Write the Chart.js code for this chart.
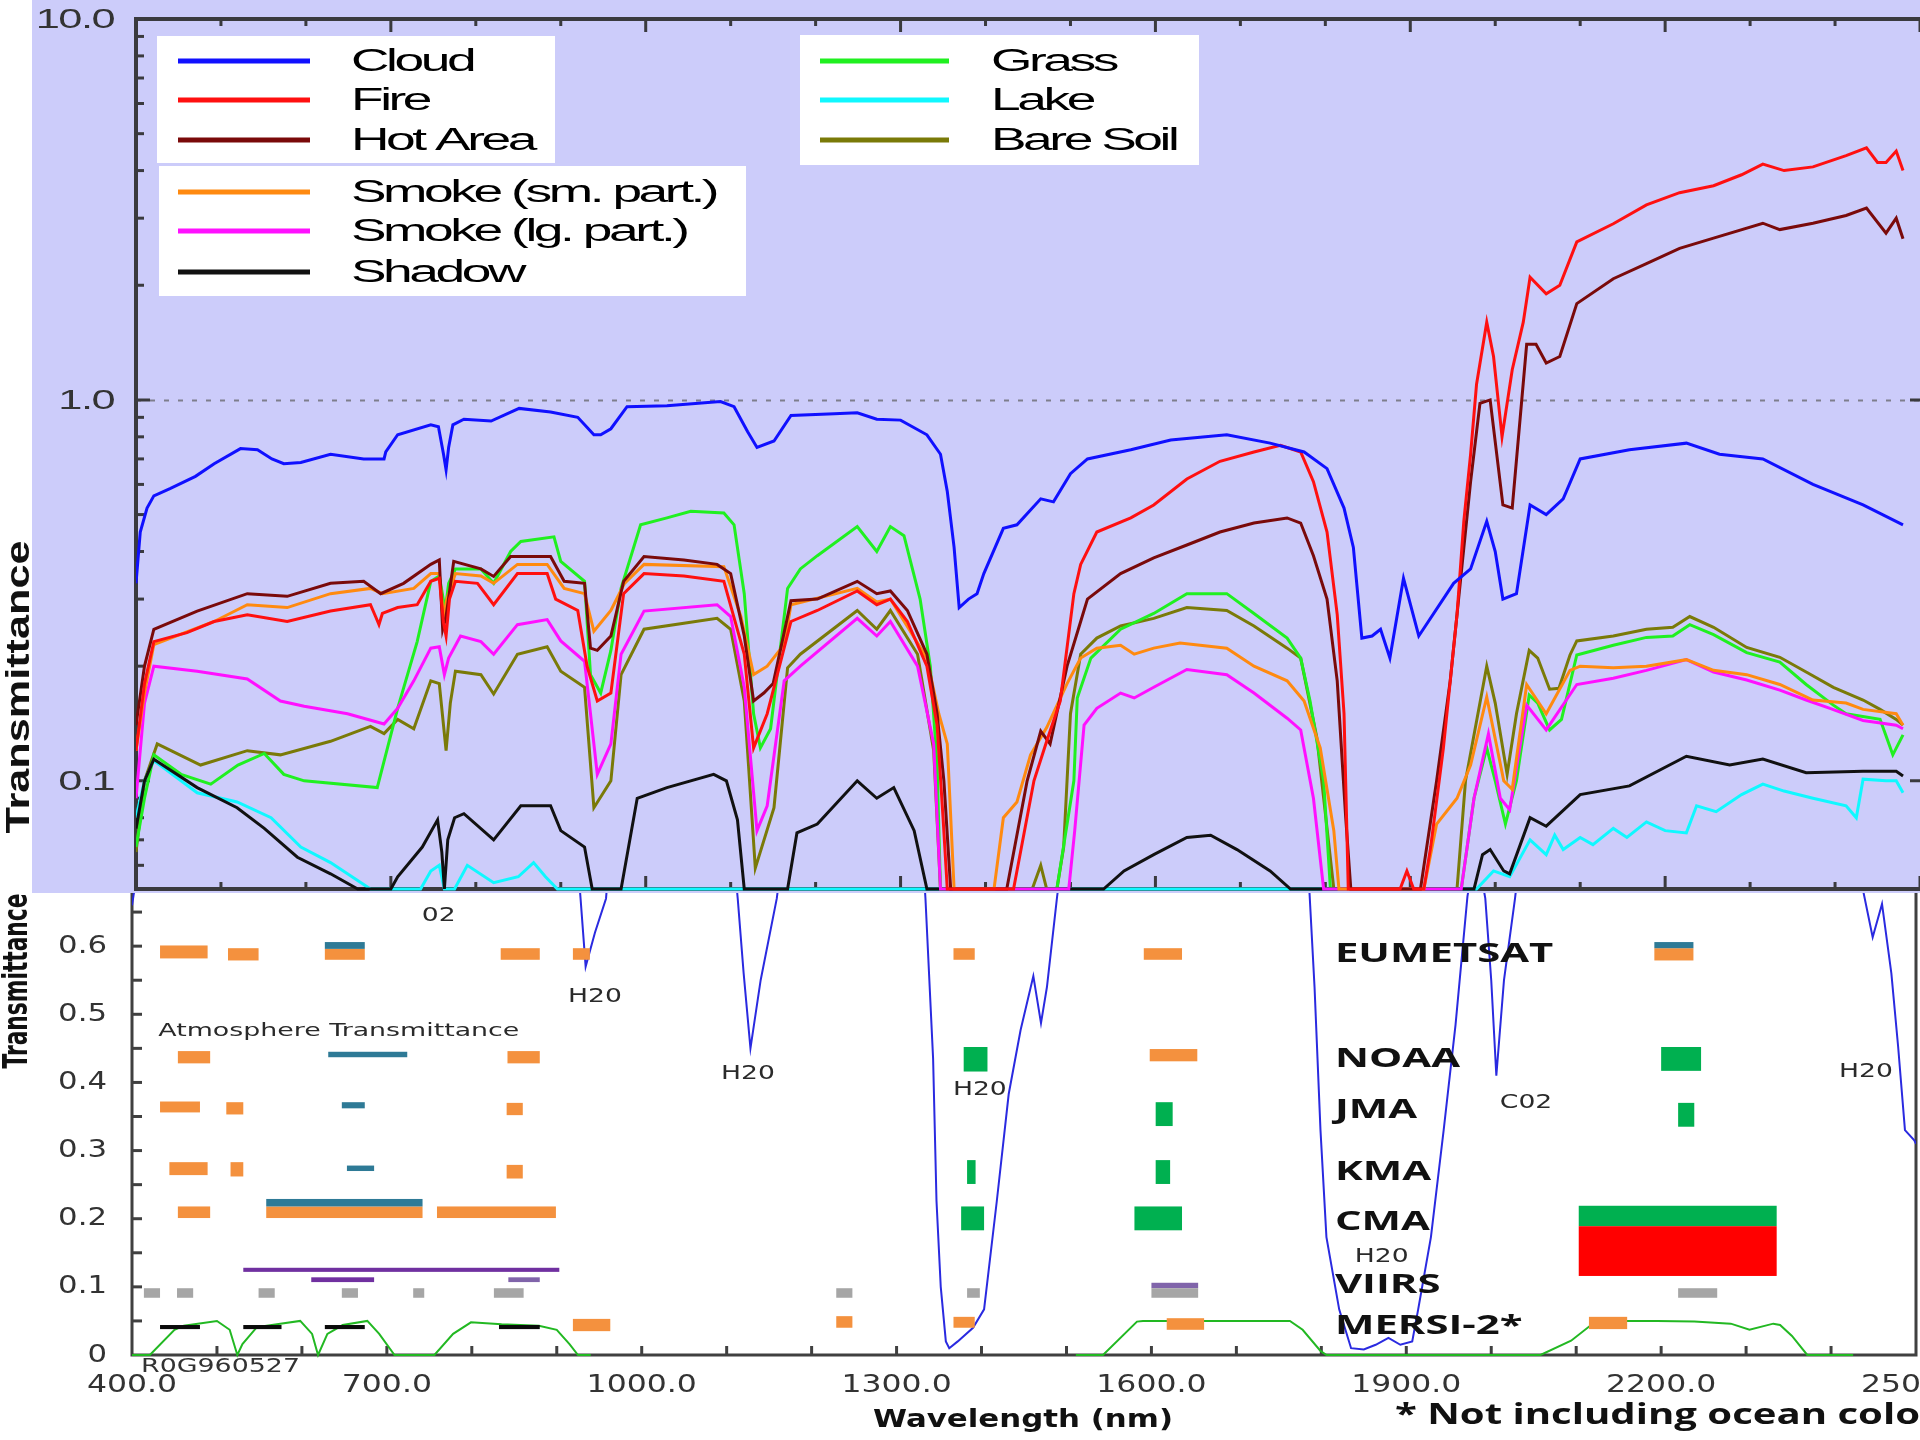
<!DOCTYPE html>
<html>
<head>
<meta charset="utf-8">
<title>Surface transmittance and satellite bands</title>
<script src="https://cdn.jsdelivr.net/npm/chart.js@4.4.1/dist/chart.umd.min.js"></script>
<style>
  html, body { margin: 0; padding: 0; background: #fff; }
  #wrap { position: relative; width: 1920px; height: 1440px; overflow: hidden; background: #fff; }
  #top { position: absolute; left: 0; top: 0; }
  #bottom { position: absolute; left: 0; top: 893px; }
</style>
</head>
<body>
<div id="wrap">
  <canvas id="top" width="1920" height="893"></canvas>
  <canvas id="bottom" width="1920" height="547"></canvas>
</div>
<script>
// ---- upper panel: surface spectra, [wavelength nm, transmittance] ----
const FLOOR = 0.052;

const cloud = [[400,0.33],[405,0.45],[413,0.52],[421,0.56],[440,0.585],[470,0.63],[492,0.68],[523,0.745],[543,0.74],[560,0.7],[574,0.68],[594,0.685],[629,0.72],[668,0.7],[692,0.7],[694,0.73],[708,0.81],[747,0.86],[756,0.85],[762,0.72],[765,0.655],[768,0.75],[773,0.86],[786,0.89],[818,0.88],[851,0.95],[888,0.93],[920,0.9],[939,0.81],[947,0.81],[959,0.84],[978,0.96],[1025,0.965],[1088,0.99],[1104,0.96],[1120,0.825],[1131,0.75],[1151,0.78],[1171,0.91],[1222,0.92],[1249,0.925],[1272,0.89],[1300,0.885],[1331,0.81],[1347,0.72],[1355,0.575],[1363,0.41],[1369,0.285],[1380,0.3],[1390,0.31],[1398,0.35],[1421,0.46],[1437,0.47],[1465,0.55],[1480,0.54],[1500,0.64],[1520,0.7],[1571,0.74],[1618,0.785],[1684,0.81],[1735,0.77],[1775,0.73],[1802,0.66],[1822,0.52],[1833,0.41],[1843,0.237],[1855,0.24],[1865,0.25],[1876,0.21],[1892,0.34],[1910,0.24],[1951,0.33],[1971,0.36],[1990,0.48],[2000,0.4],[2009,0.3],[2025,0.31],[2041,0.53],[2060,0.5],[2080,0.55],[2100,0.7],[2158,0.74],[2225,0.77],[2264,0.72],[2315,0.7],[2374,0.6],[2433,0.53],[2480,0.47]];

const fire = [[400,0.12],[410,0.18],[421,0.232],[460,0.245],[492,0.262],[531,0.273],[578,0.262],[629,0.279],[676,0.29],[682,0.27],[686,0.257],[690,0.275],[708,0.285],[731,0.29],[747,0.334],[757,0.34],[762,0.26],[765,0.24],[769,0.3],[776,0.334],[802,0.33],[821,0.29],[849,0.35],[884,0.35],[894,0.3],[920,0.28],[931,0.2],[943,0.162],[959,0.17],[974,0.31],[998,0.35],[1045,0.345],[1092,0.334],[1116,0.215],[1127,0.122],[1143,0.15],[1171,0.262],[1202,0.28],[1249,0.315],[1272,0.29],[1288,0.3],[1308,0.262],[1331,0.2],[1343,0.14],[1350,0.08],[1355,FLOOR],[1433,FLOOR],[1457,0.1],[1472,0.127],[1488,0.162],[1504,0.31],[1512,0.37],[1531,0.45],[1571,0.49],[1598,0.53],[1637,0.62],[1676,0.69],[1716,0.73],[1747,0.76],[1771,0.73],[1786,0.61],[1802,0.45],[1814,0.273],[1822,0.15],[1827,FLOOR],[1888,FLOOR],[1896,0.058],[1904,FLOOR],[1916,FLOOR],[1924,0.067],[1939,0.122],[1955,0.273],[1963,0.48],[1971,0.72],[1978,1.1],[1990,1.6],[1998,1.3],[2008,0.8],[2020,1.2],[2033,1.6],[2041,2.1],[2060,1.9],[2076,2.0],[2096,2.6],[2139,2.9],[2178,3.25],[2217,3.5],[2257,3.65],[2290,3.9],[2315,4.16],[2340,4.0],[2374,4.09],[2413,4.38],[2437,4.59],[2450,4.2],[2460,4.2],[2472,4.5],[2480,4.0]];

const hotArea = [[400,0.14],[410,0.2],[421,0.25],[472,0.279],[531,0.31],[578,0.305],[629,0.33],[668,0.334],[688,0.31],[715,0.33],[747,0.37],[757,0.38],[761,0.25],[765,0.27],[774,0.377],[806,0.36],[821,0.344],[841,0.388],[888,0.388],[904,0.334],[928,0.33],[935,0.223],[943,0.22],[959,0.24],[963,0.262],[974,0.334],[998,0.388],[1045,0.38],[1084,0.37],[1100,0.35],[1116,0.24],[1127,0.162],[1139,0.17],[1150,0.18],[1171,0.297],[1202,0.3],[1249,0.334],[1272,0.31],[1288,0.315],[1308,0.28],[1331,0.215],[1343,0.15],[1351,0.1],[1359,FLOOR],[1425,FLOOR],[1449,0.1],[1465,0.135],[1476,0.125],[1496,0.2],[1512,0.262],[1520,0.3],[1559,0.35],[1598,0.385],[1637,0.416],[1676,0.45],[1716,0.475],[1755,0.49],[1771,0.475],[1786,0.39],[1802,0.3],[1814,0.183],[1824,0.08],[1830,FLOOR],[1912,FLOOR],[1931,0.1],[1947,0.183],[1959,0.334],[1971,0.61],[1982,0.98],[1994,1.0],[2009,0.53],[2020,0.52],[2037,1.4],[2048,1.4],[2060,1.25],[2076,1.3],[2096,1.79],[2139,2.08],[2178,2.28],[2217,2.5],[2257,2.66],[2315,2.91],[2335,2.8],[2374,2.91],[2413,3.05],[2437,3.19],[2460,2.74],[2472,3.0],[2480,2.65]];

const smokeSmall = [[400,0.12],[410,0.17],[421,0.228],[492,0.262],[531,0.29],[578,0.285],[629,0.31],[676,0.32],[690,0.31],[727,0.32],[747,0.35],[757,0.35],[762,0.27],[766,0.3],[776,0.35],[806,0.345],[821,0.33],[849,0.37],[884,0.37],[904,0.32],[928,0.31],[939,0.247],[959,0.28],[975,0.33],[998,0.37],[1092,0.365],[1112,0.27],[1127,0.19],[1143,0.2],[1163,0.228],[1171,0.29],[1249,0.32],[1272,0.295],[1288,0.3],[1331,0.21],[1345,0.15],[1355,0.125],[1363,FLOOR],[1410,FLOOR],[1421,0.08],[1437,0.088],[1453,0.117],[1472,0.138],[1496,0.18],[1512,0.21],[1531,0.223],[1559,0.227],[1575,0.215],[1598,0.223],[1629,0.23],[1684,0.223],[1716,0.2],[1755,0.183],[1775,0.162],[1794,0.122],[1810,0.074],[1816,FLOOR],[1916,FLOOR],[1931,0.077],[1955,0.09],[1971,0.11],[1990,0.166],[2010,0.1],[2020,0.095],[2037,0.179],[2060,0.15],[2088,0.195],[2100,0.2],[2139,0.198],[2178,0.2],[2225,0.208],[2257,0.195],[2296,0.19],[2335,0.179],[2374,0.163],[2413,0.16],[2433,0.154],[2472,0.15],[2480,0.14]];

const smokeLarge = [[400,0.09],[410,0.16],[421,0.2],[472,0.194],[531,0.185],[570,0.162],[598,0.157],[649,0.15],[692,0.141],[708,0.155],[727,0.183],[747,0.223],[757,0.225],[763,0.19],[768,0.21],[782,0.24],[806,0.232],[821,0.215],[849,0.257],[884,0.265],[900,0.233],[928,0.206],[935,0.15],[943,0.104],[959,0.125],[971,0.215],[998,0.279],[1084,0.29],[1100,0.27],[1116,0.176],[1131,0.074],[1143,0.086],[1163,0.183],[1182,0.2],[1249,0.267],[1272,0.24],[1288,0.262],[1320,0.2],[1339,0.125],[1347,FLOOR],[1498,FLOOR],[1505,0.074],[1516,0.14],[1531,0.155],[1559,0.17],[1575,0.165],[1598,0.176],[1637,0.196],[1684,0.19],[1716,0.17],[1755,0.146],[1771,0.136],[1786,0.09],[1798,FLOOR],[1960,FLOOR],[1975,0.09],[1992,0.133],[2006,0.09],[2017,0.084],[2037,0.158],[2060,0.136],[2096,0.179],[2139,0.186],[2178,0.195],[2225,0.208],[2257,0.193],[2296,0.184],[2335,0.173],[2366,0.163],[2394,0.155],[2433,0.144],[2472,0.14],[2480,0.137]];

const shadow = [[400,0.075],[410,0.1],[421,0.114],[472,0.096],[519,0.085],[551,0.075],[590,0.063],[629,0.057],[661,FLOOR],[700,FLOOR],[708,0.056],[737,0.067],[755,0.079],[760,0.065],[763,FLOOR],[767,0.07],[775,0.08],[786,0.082],[821,0.07],[853,0.086],[888,0.086],[900,0.074],[928,0.067],[937,FLOOR],[971,FLOOR],[990,0.09],[1025,0.096],[1080,0.104],[1095,0.1],[1108,0.079],[1116,FLOOR],[1167,FLOOR],[1178,0.073],[1202,0.077],[1249,0.1],[1272,0.09],[1292,0.096],[1316,0.074],[1331,FLOOR],[1539,FLOOR],[1563,0.058],[1598,0.064],[1637,0.071],[1665,0.072],[1696,0.066],[1735,0.058],[1759,FLOOR],[1975,FLOOR],[1985,0.064],[1994,0.066],[2010,0.058],[2017,0.057],[2041,0.08],[2060,0.076],[2100,0.092],[2158,0.097],[2225,0.116],[2276,0.11],[2315,0.114],[2366,0.105],[2433,0.106],[2472,0.106],[2480,0.103]];

const grass = [[400,0.067],[410,0.09],[421,0.117],[453,0.104],[488,0.098],[520,0.11],[551,0.118],[574,0.104],[598,0.1],[684,0.096],[708,0.155],[731,0.232],[747,0.334],[757,0.345],[764,0.28],[768,0.33],[776,0.36],[806,0.36],[821,0.33],[841,0.4],[853,0.425],[892,0.437],[900,0.377],[928,0.334],[935,0.19],[947,0.17],[959,0.22],[971,0.32],[994,0.47],[1025,0.49],[1053,0.51],[1092,0.505],[1104,0.47],[1116,0.31],[1127,0.15],[1135,0.122],[1147,0.137],[1167,0.32],[1182,0.36],[1202,0.39],[1249,0.465],[1272,0.4],[1288,0.465],[1304,0.44],[1323,0.3],[1335,0.2],[1343,0.11],[1347,FLOOR],[1484,FLOOR],[1504,0.1],[1508,0.165],[1524,0.21],[1559,0.25],[1598,0.275],[1637,0.31],[1684,0.31],[1716,0.275],[1755,0.237],[1771,0.21],[1782,0.162],[1798,0.1],[1806,FLOOR],[1960,FLOOR],[1975,0.09],[1990,0.122],[2000,0.1],[2012,0.077],[2025,0.1],[2040,0.168],[2050,0.16],[2064,0.136],[2078,0.145],[2096,0.214],[2139,0.227],[2178,0.238],[2209,0.24],[2229,0.257],[2257,0.242],[2296,0.217],[2335,0.205],[2366,0.179],[2398,0.158],[2413,0.15],[2453,0.145],[2468,0.117],[2480,0.132]];

const lake = [[400,0.08],[410,0.1],[421,0.113],[472,0.093],[519,0.088],[559,0.08],[594,0.067],[629,0.061],[676,FLOOR],[735,FLOOR],[747,0.058],[757,0.06],[763,FLOOR],[775,FLOOR],[790,0.06],[821,0.054],[850,0.056],[868,0.061],[882,0.056],[896,FLOOR],[1978,FLOOR],[1998,0.058],[2017,0.056],[2041,0.07],[2060,0.064],[2070,0.072],[2080,0.066],[2100,0.071],[2115,0.068],[2139,0.075],[2155,0.071],[2178,0.078],[2200,0.074],[2225,0.073],[2237,0.086],[2260,0.083],[2290,0.092],[2315,0.098],[2340,0.094],[2374,0.09],[2413,0.086],[2425,0.08],[2433,0.101],[2460,0.1],[2472,0.1],[2480,0.093]];

const bareSoil = [[400,0.065],[410,0.1],[425,0.125],[476,0.11],[531,0.12],[570,0.117],[629,0.127],[676,0.139],[692,0.133],[708,0.145],[727,0.137],[747,0.183],[757,0.18],[765,0.12],[770,0.16],[776,0.194],[806,0.19],[821,0.169],[849,0.215],[884,0.225],[900,0.194],[928,0.176],[939,0.085],[959,0.1],[971,0.19],[998,0.25],[1084,0.267],[1100,0.25],[1116,0.162],[1129,0.059],[1151,0.085],[1167,0.198],[1182,0.215],[1249,0.28],[1272,0.25],[1288,0.28],[1320,0.215],[1339,0.12],[1347,FLOOR],[1455,FLOOR],[1465,0.06],[1472,FLOOR],[1484,FLOOR],[1492,0.067],[1500,0.15],[1512,0.215],[1531,0.237],[1559,0.255],[1598,0.267],[1637,0.285],[1684,0.28],[1716,0.255],[1755,0.223],[1771,0.21],[1790,0.13],[1810,FLOOR],[1955,FLOOR],[1965,0.1],[1990,0.2],[2000,0.16],[2014,0.104],[2025,0.15],[2040,0.22],[2050,0.21],[2064,0.174],[2075,0.175],[2088,0.214],[2096,0.233],[2139,0.24],[2178,0.25],[2209,0.253],[2229,0.27],[2257,0.253],[2296,0.224],[2335,0.211],[2366,0.193],[2398,0.176],[2433,0.163],[2453,0.154],[2472,0.145],[2480,0.14]];

// ---- lower panel: atmosphere and MERSI-2 response, [wavelength nm, transmittance] ----
const atmosphere = [[400,0.66],[410,0.74],[500,0.85],[700,0.9],[760,0.8],[770,0.9],[900,0.88],[920,0.8],[928,0.67],[934,0.57],[945,0.62],[958,0.67],[966,0.8],[1100,0.85],[1113,0.67],[1120,0.56],[1128,0.45],[1140,0.55],[1159,0.67],[1172,0.8],[1300,0.85],[1330,0.75],[1334,0.67],[1343,0.435],[1347,0.226],[1352,0.1],[1358,0.02],[1362,0.01],[1372,0.02],[1390,0.04],[1403,0.067],[1418,0.226],[1432,0.383],[1446,0.477],[1461,0.556],[1470,0.487],[1477,0.54],[1489,0.673],[1500,0.78],[1770,0.8],[1786,0.68],[1792,0.54],[1799,0.33],[1806,0.173],[1821,0.067],[1835,0.01],[1850,0.008],[1864,0.015],[1879,0.025],[1893,0.015],[1907,0.02],[1914,0.067],[1929,0.173],[1944,0.33],[1958,0.485],[1972,0.673],[1982,0.75],[1993,0.67],[2000,0.55],[2006,0.41],[2015,0.55],[2028,0.67],[2038,0.78],[2420,0.8],[2438,0.68],[2449,0.613],[2460,0.662],[2471,0.56],[2479,0.452],[2487,0.33],[2498,0.315],[2500,0.31]];

const mersiResponseVnir = [[400,0],[421,0],[450,0.037],[461,0.043],[500,0.05],[515,0.037],[524,0],[530,0.016],[547,0.041],[598,0.05],[612,0.031],[619,0],[630,0.031],[648,0.044],[677,0.05],[691,0.031],[709,0],[756,0],[778,0.031],[799,0.048],[835,0.045],[879,0.043],[900,0.037],[915,0.016],[925,0],[940,0]];
const mersiResponseSwir = [[1511,0],[1543,0],[1583,0.049],[1590,0.05],[1763,0.05],[1778,0.037],[1799,0.006],[1806,0],[2058,0],[2094,0.021],[2116,0.0425],[2130,0.05],[2195,0.05],[2239,0.049],[2282,0.046],[2304,0.037],[2332,0.046],[2340,0.044],[2354,0.028],[2372,0],[2426,0]];

// ---- instrument bands, [start nm, end nm, low, high] ----
const orangeBands = [
  [433,489,0.582,0.601],[513,549,0.579,0.597],[627,674,0.58,0.596],[834,880,0.58,0.597],[919,939,0.58,0.597],[1367,1392,0.58,0.597],[1591,1636,0.58,0.597],[2192,2238,0.579,0.597],
  [454,492,0.428,0.446],[842,880,0.428,0.446],[1598,1654,0.431,0.449],
  [433,480,0.356,0.372],[511,531,0.353,0.371],[841,860,0.352,0.37],
  [444,489,0.264,0.283],[516,531,0.262,0.283],[841,860,0.259,0.279],
  [454,492,0.201,0.218],[558,742,0.201,0.218],[759,899,0.201,0.218],
  [919,963,0.035,0.053],[1229,1248,0.04,0.057],[1367,1392,0.04,0.056],[1618,1662,0.037,0.054],[2115,2160,0.038,0.056]
];
const tealBands = [
  [627,674,0.596,0.606],[2192,2238,0.597,0.606],
  [631,724,0.437,0.445],
  [647,674,0.362,0.371],
  [653,685,0.27,0.278],
  [558,742,0.218,0.229]
];
const greenBands = [
  [1379,1407,0.416,0.452],[2200,2247,0.417,0.452],
  [1605,1625,0.336,0.371],[2220,2239,0.335,0.37],
  [1383,1393,0.251,0.286],[1605,1622,0.251,0.286],
  [1376,1403,0.183,0.218],[1580,1636,0.183,0.218],[2103,2336,0.189,0.219]
];
const redBands = [[2103,2336,0.116,0.189]];
const purpleBands = [[531,903,0.122,0.128],[611,685,0.107,0.114]];
const lilacBands = [[843,880,0.107,0.114],[1600,1655,0.098,0.106]];
const grayBands = [[414,433,0.084,0.098],[453,472,0.084,0.098],[549,568,0.084,0.098],[647,666,0.084,0.098],[731,744,0.084,0.098],[826,861,0.084,0.098],[1229,1248,0.084,0.098],[1383,1398,0.084,0.098],[1600,1655,0.084,0.098],[2220,2266,0.084,0.098]];
const blackBands = [[433,480,0.038,0.044],[531,576,0.038,0.044],[627,674,0.038,0.044],[832,880,0.038,0.044]];

// ---- axes ----
const xTickValues = [400, 700, 1000, 1300, 1600, 1900, 2200, 2500];
const xTickLabels = ['400.0', '700.0', '1000.0', '1300.0', '1600.0', '1900.0', '2200.0', '2500.0'];
const topYTickValues = [0.1, 1, 10];
const topYTickLabels = ['0.1', '1.0', '10.0'];
const bottomYTickValues = [0, 0.1, 0.2, 0.3, 0.4, 0.5, 0.6];
const bottomYTickLabels = ['0', '0.1', '0.2', '0.3', '0.4', '0.5', '0.6'];
const agencies = ['EUMETSAT', 'NOAA', 'JMA', 'KMA', 'CMA', 'VIIRS', 'MERSI-2*'];

const LAVENDER = 'rgb(204,204,250)';

const surfaceSeries = [
  { label: 'Cloud', values: cloud, color: '#1010ff' },
  { label: 'Fire', values: fire, color: '#ff1010' },
  { label: 'Hot Area', values: hotArea, color: '#7a0a0a' },
  { label: 'Smoke (sm. part.)', values: smokeSmall, color: '#ff8a10' },
  { label: 'Smoke (lg. part.)', values: smokeLarge, color: '#ff10ff' },
  { label: 'Shadow', values: shadow, color: '#111111' },
  { label: 'Grass', values: grass, color: '#20f020' },
  { label: 'Lake', values: lake, color: '#10f8ff' },
  { label: 'Bare Soil', values: bareSoil, color: '#7a7a08' }
];

const toPoints = arr => arr.map(([x, y]) => ({ x, y }));

// stretched text: the whole figure is wider than its fonts
function drawLabel(ctx, text, x, y, o) {
  ctx.save();
  ctx.font = o.font;
  if (o.spacing) ctx.letterSpacing = o.spacing;
  ctx.fillStyle = o.color || '#222';
  ctx.textBaseline = 'middle';
  ctx.textAlign = 'left';
  const natural = ctx.measureText(o.fitTo || text).width;
  const sx = o.width ? o.width / natural : (o.sx || 1);
  const w = ctx.measureText(text).width * sx;
  const left = o.align === 'center' ? x - w / 2 : o.align === 'right' ? x - w : x;
  ctx.translate(left, y);
  ctx.scale(sx, 1);
  ctx.fillText(text, 0, 0);
  ctx.restore();
}

function drawVertical(ctx, text, cx, cy, o) {
  ctx.save();
  ctx.font = o.font;
  ctx.fillStyle = o.color || '#111';
  ctx.textAlign = 'center';
  ctx.textBaseline = 'alphabetic';
  const m = ctx.measureText(text);
  const h = m.actualBoundingBoxAscent;
  ctx.translate(cx, cy);
  ctx.rotate(-Math.PI / 2);
  ctx.scale(o.length / m.width, o.thickness / h);
  ctx.fillText(text, 0, h / 2);
  ctx.restore();
}

// ---- upper panel decorations ----
const topPanel = {
  id: 'topPanel',
  beforeDatasetsDraw(chart) {
    const { ctx, chartArea: a, scales: { x, y } } = chart;
    ctx.save();
    // dotted reference at 1.0
    ctx.setLineDash([5, 9]);
    ctx.strokeStyle = '#7e7e8c';
    ctx.lineWidth = 2;
    const p1 = Math.round(y.getPixelForValue(1)) + 0.5;
    ctx.beginPath(); ctx.moveTo(a.left, p1); ctx.lineTo(a.right, p1); ctx.stroke();
    ctx.setLineDash([]);

    ctx.strokeStyle = '#3a3a3e';
    ctx.lineWidth = 3;
    for (let nm = 400; nm <= 2500; nm += 100) {
      const px = x.getPixelForValue(nm);
      const len = (nm - 400) % 300 === 0 ? 13 : 7;
      ctx.beginPath();
      ctx.moveTo(px, a.top); ctx.lineTo(px, a.top + len);
      ctx.moveTo(px, a.bottom); ctx.lineTo(px, a.bottom - len);
      ctx.stroke();
    }
    for (let k = -2; k <= 1; k++) {
      for (let m = 1; m <= 9; m++) {
        const v = m * Math.pow(10, k);
        if (v < y.min || v > y.max * 1.0001) continue;
        const py = y.getPixelForValue(v);
        const len = m === 1 ? 14 : 8;
        ctx.beginPath();
        ctx.moveTo(a.left, py); ctx.lineTo(a.left + len, py);
        if (m === 1) { ctx.moveTo(a.right, py); ctx.lineTo(a.right - 10, py); }
        ctx.stroke();
      }
    }
    ctx.lineWidth = 4;
    ctx.beginPath();
    ctx.moveTo(a.right + 4, a.top); ctx.lineTo(a.left, a.top);
    ctx.lineTo(a.left, a.bottom); ctx.lineTo(a.right + 4, a.bottom);
    ctx.stroke();
    ctx.restore();
  },
  afterDatasetsDraw(chart) {
    const { ctx, scales: { y } } = chart;
    const ds = chart.data.datasets;
    const boxes = [
      { rect: [157, 36, 398, 127], rows: [0, 1, 2], line: [178, 310], text: 351, ys: [61, 100, 140] },
      { rect: [159, 166, 587, 130], rows: [3, 4, 5], line: [178, 310], text: 351, ys: [192, 231, 272] },
      { rect: [800, 35, 399, 130], rows: [6, 7, 8], line: [820, 949], text: 991, ys: [61, 100, 140] }
    ];
    ctx.save();
    for (const b of boxes) {
      ctx.fillStyle = '#ffffff';
      ctx.fillRect(...b.rect);
      b.rows.forEach((i, r) => {
        ctx.strokeStyle = ds[i].borderColor;
        ctx.lineWidth = 5;
        ctx.beginPath();
        ctx.moveTo(b.line[0], b.ys[r]); ctx.lineTo(b.line[1], b.ys[r]);
        ctx.stroke();
        drawLabel(ctx, ds[i].label, b.text, b.ys[r] + 1, { font: '31px "Liberation Sans", Arial, sans-serif', spacing: '-2px', sx: 1.72, color: '#000' });
      });
    }
    ctx.restore();
    topYTickValues.forEach((v, i) => {
      drawLabel(ctx, topYTickLabels[i], 114, y.getPixelForValue(v) + 1, { font: '28px "Liberation Sans", Arial, sans-serif', spacing: '-1px', sx: 1.55, align: 'right', color: '#333' });
    });
    drawVertical(ctx, 'Transmittance', 16, 687, { font: 'bold 30px "Liberation Sans Narrow", "Liberation Sans", sans-serif', length: 293, thickness: 25 });
  }
};

const topChart = new Chart(document.getElementById('top'), {
  type: 'line',
  data: {
    datasets: surfaceSeries.map(s => ({
      label: s.label,
      data: toPoints(s.values),
      borderColor: s.color,
      borderWidth: 3,
      pointRadius: 0,
      fill: false,
      clip: { left: 0, top: 0, right: 0, bottom: 3 }
    }))
  },
  options: {
    responsive: false,
    animation: false,
    devicePixelRatio: 1,
    layout: { padding: { top: 19, right: 0, bottom: 0, left: 0 } },
    plugins: { legend: { display: false }, tooltip: { enabled: false } },
    scales: {
      x: {
        type: 'linear', min: 400, max: 2500,
        ticks: { display: false }, grid: { display: false }, border: { display: false },
        afterFit: s => { s.height = 4; }
      },
      y: {
        type: 'logarithmic', min: FLOOR, max: 10,
        ticks: { display: false }, grid: { display: false }, border: { display: false },
        afterFit: s => { s.width = 136; }
      }
    }
  },
  plugins: [
    { id: 'lavender', beforeDraw(chart) {
        const c = chart.ctx;
        c.save();
        c.fillStyle = '#fff'; c.fillRect(0, 0, chart.width, chart.height);
        c.fillStyle = LAVENDER; c.fillRect(32, 0, chart.width - 32, chart.height);
        c.restore();
    } },
    topPanel
  ]
});

// ---- lower panel decorations ----
const bandLayers = [
  { bands: orangeBands, color: 'rgb(244,145,62)' },
  { bands: tealBands, color: 'rgb(46,122,150)' },
  { bands: greenBands, color: 'rgb(0,176,80)' },
  { bands: redBands, color: 'rgb(255,0,0)' },
  { bands: purpleBands, color: 'rgb(112,48,160)' },
  { bands: lilacBands, color: 'rgb(128,100,170)' },
  { bands: grayBands, color: 'rgb(166,166,166)' },
  { bands: blackBands, color: 'rgb(10,10,10)' }
];

const gasMarks = [
  { text: '02', nm: 761, t: 0.644 },
  { text: 'H20', nm: 945, t: 0.526 },
  { text: 'H20', nm: 1125, t: 0.413 },
  { text: 'H20', nm: 1398, t: 0.389 },
  { text: 'H20', nm: 1871, t: 0.144 },
  { text: 'C02', nm: 2041, t: 0.37 },
  { text: 'H20', nm: 2441, t: 0.415 }
];
const agencyLevels = [0.589, 0.435, 0.361, 0.27, 0.196, 0.104, 0.044];

const bottomPanel = {
  id: 'bottomPanel',
  beforeDatasetsDraw(chart) {
    const { ctx, chartArea: a, scales: { x, y } } = chart;
    ctx.save();
    ctx.strokeStyle = '#404040';
    ctx.lineWidth = 3;
    for (let v = 0.05; v < y.max; v += 0.05) {
      const py = y.getPixelForValue(v);
      ctx.beginPath(); ctx.moveTo(a.left, py); ctx.lineTo(a.left + 10, py); ctx.stroke();
    }
    for (let nm = 500; nm < 2500; nm += 100) {
      const px = x.getPixelForValue(nm);
      ctx.beginPath(); ctx.moveTo(px, a.bottom); ctx.lineTo(px, a.bottom - 9); ctx.stroke();
    }
    ctx.beginPath();
    ctx.moveTo(a.left, a.top); ctx.lineTo(a.left, a.bottom);
    ctx.lineTo(a.right, a.bottom); ctx.lineTo(a.right, a.top);
    ctx.stroke();
    ctx.restore();
  },
  afterDatasetsDraw(chart) {
    const { ctx, scales: { x, y } } = chart;
    ctx.save();
    for (const layer of bandLayers) {
      ctx.fillStyle = layer.color;
      for (const [x0, x1, y0, y1] of layer.bands) {
        const px0 = x.getPixelForValue(x0), px1 = x.getPixelForValue(x1);
        const py0 = y.getPixelForValue(y0), py1 = y.getPixelForValue(y1);
        ctx.fillRect(px0, py1, px1 - px0, py0 - py1);
      }
    }
    ctx.restore();

    const small = '19px "DejaVu Sans", sans-serif';
    for (const g of gasMarks) {
      drawLabel(ctx, g.text, x.getPixelForValue(g.nm), y.getPixelForValue(g.t), { font: small, sx: 1.4, align: 'center', color: '#2a2a2a' });
    }
    drawLabel(ctx, 'Atmosphere Transmittance', x.getPixelForValue(431), y.getPixelForValue(0.475), { font: '18px "DejaVu Sans", sans-serif', width: 361, color: '#2a2a2a' });
    agencies.forEach((name, i) => {
      drawLabel(ctx, name, x.getPixelForValue(1816), y.getPixelForValue(agencyLevels[i]) + 1, { font: 'bold 27px "Open Sans", sans-serif', sx: 1.55, color: '#111' });
    });

    bottomYTickValues.forEach((v, i) => {
      drawLabel(ctx, bottomYTickLabels[i], 107, y.getPixelForValue(v), { font: '25px "DejaVu Sans", sans-serif', sx: 1.23, align: 'right', color: '#333' });
    });
    xTickValues.forEach((v, i) => {
      drawLabel(ctx, xTickLabels[i], x.getPixelForValue(v), 492, { font: '25px "DejaVu Sans", sans-serif', sx: 1.26, align: 'center', color: '#333' });
    });
    drawLabel(ctx, 'R0G960527', 141, 474, { font: '20px "DejaVu Sans", sans-serif', width: 159, color: '#333' });
    drawLabel(ctx, 'Wavelength (nm)', 873, 527, { font: 'bold 25px "DejaVu Sans", sans-serif', width: 300, color: '#111' });
    drawLabel(ctx, '* Not including ocean color', 1395, 523, { font: 'bold 28px "Open Sans", sans-serif', fitTo: '* Not including ocean colo', width: 525, color: '#111' });
    drawVertical(ctx, 'Transmittance', 15, 88, { font: 'bold 22px "DejaVu Sans", sans-serif', length: 175, thickness: 24 });
  }
};

const bottomChart = new Chart(document.getElementById('bottom'), {
  type: 'line',
  data: {
    datasets: [
      { label: 'Atmosphere Transmittance', data: toPoints(atmosphere), borderColor: '#2a2ae0', borderWidth: 2, pointRadius: 0, fill: false, clip: { left: 0, top: 0, right: 0, bottom: 3 } },
      { label: 'MERSI-2 VNIR response', data: toPoints(mersiResponseVnir), borderColor: '#22b822', borderWidth: 2, pointRadius: 0, fill: false, clip: { left: 0, top: 0, right: 0, bottom: 3 } },
      { label: 'MERSI-2 SWIR response', data: toPoints(mersiResponseSwir), borderColor: '#22b822', borderWidth: 2, pointRadius: 0, fill: false, clip: { left: 0, top: 0, right: 0, bottom: 3 } }
    ]
  },
  options: {
    responsive: false,
    animation: false,
    devicePixelRatio: 1,
    layout: { padding: { top: 0, right: 4, bottom: 0, left: 0 } },
    plugins: { legend: { display: false }, tooltip: { enabled: false } },
    scales: {
      x: {
        type: 'linear', min: 400, max: 2500,
        ticks: { display: false }, grid: { display: false }, border: { display: false },
        afterFit: s => { s.height = 85; }
      },
      y: {
        type: 'linear', min: 0, max: 0.678,
        ticks: { display: false }, grid: { display: false }, border: { display: false },
        afterFit: s => { s.width = 132; }
      }
    }
  },
  plugins: [bottomPanel]
});
</script>
</body>
</html>
